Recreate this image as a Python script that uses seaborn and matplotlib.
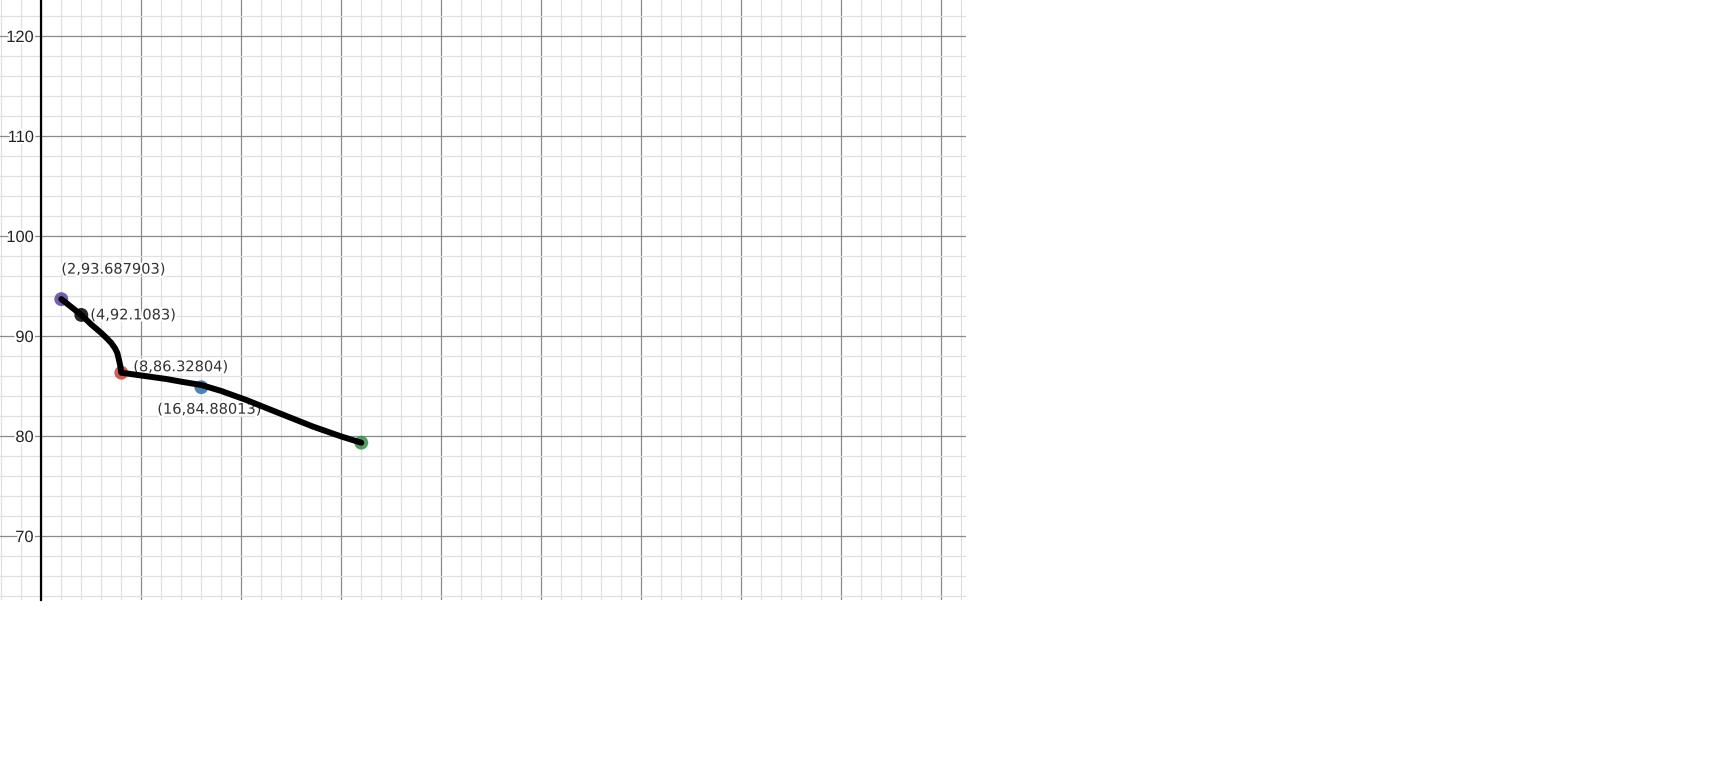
import matplotlib
matplotlib.use("Agg")
import matplotlib.pyplot as plt
import matplotlib.patheffects as pe
from matplotlib.ticker import MultipleLocator
import seaborn as sns
import pandas as pd

# ---- data ----
point_x = [2, 4, 8, 16, 32]
point_y = [93.687903, 92.1083, 86.32804, 84.88013, 79.33]
point_names = ["p2", "p4", "p8", "p16", "p32"]
point_colors = ["#6042a6", "#000000", "#c74440", "#2d70b3", "#388c46"]
point_labels = ["(2,93.687903)", "(4,92.1083)", "(8,86.32804)", "(16,84.88013)", ""]

curve_x = [2, 4, 5, 6, 6.55, 7.0, 7.37, 7.6, 7.77, 7.9, 8,
           10, 12.5, 14, 16, 18, 20.5, 22, 24, 27.2, 30, 32]
curve_y = [93.69, 92.11, 91.15, 90.3, 89.77, 89.3, 88.77, 88.3, 87.6, 87.0, 86.33,
           86.05, 85.7, 85.43, 85.1, 84.5, 83.6, 83.0, 82.2, 80.93, 79.95, 79.33]

y_ticks = [70, 80, 90, 100, 110, 120]

# ---- figure ----
sns.set_style("white")
plt.rcParams["font.family"] = ["DejaVu Sans"]

W, H, DPI = 1711, 779, 100
fig = plt.figure(figsize=(W / DPI, H / DPI), dpi=DPI)
ax = fig.add_axes([0, (H - 600) / H, 966 / W, 600 / H])

ax.set_xlim(-4.13, 92.47)
ax.set_ylim(63.6, 123.6)

pts = pd.DataFrame({"x": point_x, "y": point_y, "name": point_names})
sns.scatterplot(data=pts, x="x", y="y", hue="name", hue_order=point_names,
                palette=point_colors, s=100, linewidth=0, alpha=0.85,
                legend=False, ax=ax, zorder=3)

crv = pd.DataFrame({"x": curve_x, "y": curve_y})
sns.lineplot(data=crv, x="x", y="y", sort=False, color="black",
             linewidth=4.3, ax=ax, zorder=4,
             solid_capstyle="round", solid_joinstyle="round")

# point labels (offsets in pixels); drawn beneath the curve
offsets = [(0, 30, "left"), (9, 0, "left"), (12, 6, "left"), (8, -22, "center"), (0, 0, "left")]
for xv, yv, lab, (dx, dy, ha) in zip(point_x, point_y, point_labels, offsets):
    if not lab:
        continue
    ax.annotate(lab, (xv, yv), xytext=(dx, dy), textcoords="offset pixels",
                ha=ha, va="center", fontsize=10.5, color="#333333",
                family="DejaVu Sans", zorder=3.5,
                path_effects=[pe.withStroke(linewidth=3, foreground="white")])

# grid
ax.xaxis.set_major_locator(MultipleLocator(10))
ax.xaxis.set_minor_locator(MultipleLocator(2))
ax.set_yticks(y_ticks)
ax.yaxis.set_minor_locator(MultipleLocator(2))
ax.set_axisbelow(True)
ax.grid(which="major", color="#8a8a8a", linewidth=0.9)
ax.grid(which="minor", color="#e0e0e0", linewidth=0.9)

for side in ["top", "right", "bottom"]:
    ax.spines[side].set_visible(False)
ax.spines["left"].set_position(("data", 0))
ax.spines["left"].set_color("black")
ax.spines["left"].set_linewidth(1.6)
ax.spines["left"].set_zorder(2.6)

ax.tick_params(axis="x", which="both", length=0, labelbottom=False)
ax.tick_params(axis="y", which="both", length=0, pad=5.5)
ax.set_yticklabels([str(t) for t in y_ticks])
for lbl in ax.get_yticklabels():
    lbl.set_family("Liberation Sans")
    lbl.set_fontsize(11.8)
    lbl.set_color("#222222")
    lbl.set_path_effects([pe.withStroke(linewidth=3, foreground="white")])

ax.set_xlabel("")
ax.set_ylabel("")

fig.savefig("out.png", dpi=DPI, facecolor="white")
